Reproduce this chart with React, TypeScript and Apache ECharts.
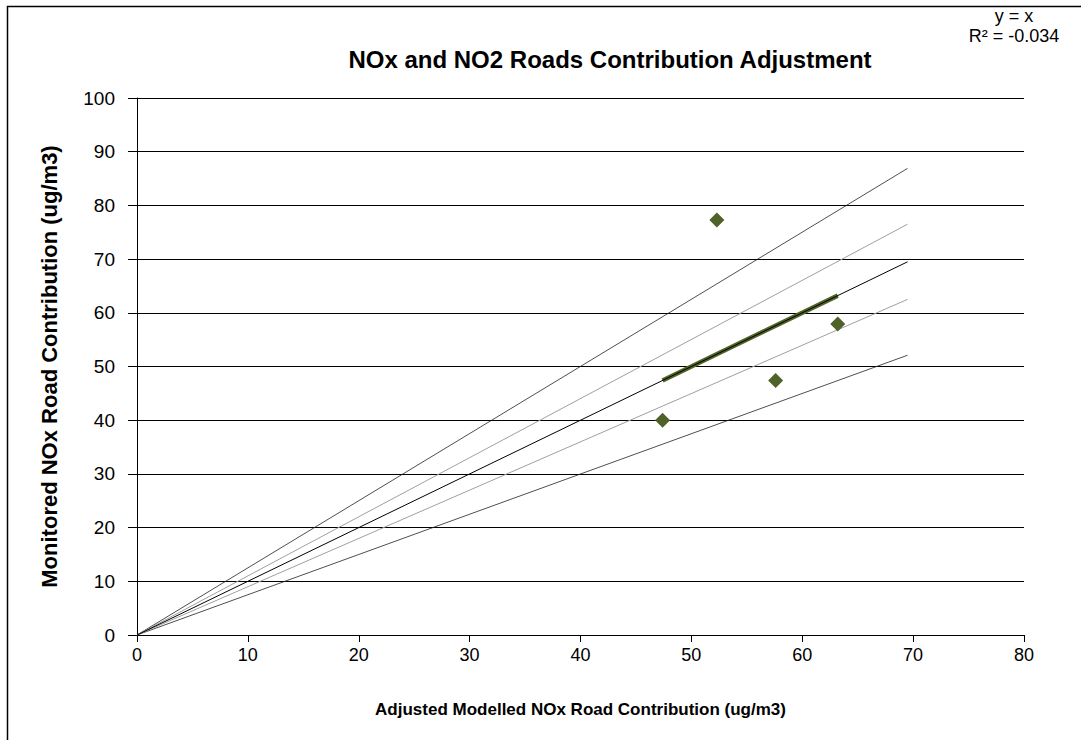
import React, { useEffect, useRef } from "react";
import * as echarts from "echarts";

const monitoredPoints: [number, number][] = [
  [47.4, 40.0],
  [52.3, 77.3],
  [57.6, 47.4],
  [63.2, 57.9],
];
const trendLine: [number, number][] = [
  [47.4, 47.4],
  [63.2, 63.2],
];
const lineOneToOne: [number, number][] = [
  [0, 0],
  [69.5, 69.5],
];
const linePlus25: [number, number][] = [
  [0, 0],
  [69.5, 86.9],
];
const lineMinus25: [number, number][] = [
  [0, 0],
  [69.5, 52.1],
];
const linePlus10: [number, number][] = [
  [0, 0],
  [69.5, 76.5],
];
const lineMinus10: [number, number][] = [
  [0, 0],
  [69.5, 62.5],
];

const FONT = "'Liberation Sans', Arial, sans-serif";

export default function App() {
  const ref = useRef<HTMLDivElement>(null);
  useEffect(() => {
    if (!ref.current) return;
    const chart = echarts.init(ref.current, null, { renderer: "svg" });
    const lineSeries = (data: [number, number][], color: string, width: number, z: number) => ({
      type: "line",
      data,
      symbol: "none",
      lineStyle: { color, width },
      z,
      silent: true,
    });
    chart.setOption({
      animation: false,
      backgroundColor: "#ffffff",
      textStyle: { fontFamily: FONT },
      title: {
        text: "NOx and NO2 Roads Contribution Adjustment",
        left: 605,
        top: 42,
        textAlign: "center",
        textStyle: { fontSize: 24, fontWeight: "bold", color: "#000", fontFamily: FONT },
      },
      graphic: [
        {
          type: "rect",
          shape: { x: 7.5, y: 6.5, width: 1200, height: 900 },
          style: { fill: "none", stroke: "#000", lineWidth: 1.5 },
          silent: true,
        },
        {
          type: "text",
          x: 1014,
          y: 16,
          style: { text: "y = x", fill: "#000", font: `18px ${FONT}`, textAlign: "center", textVerticalAlign: "middle" },
        },
        {
          type: "text",
          x: 1014,
          y: 36,
          style: { text: "R² = -0.034", fill: "#000", font: `18px ${FONT}`, textAlign: "center", textVerticalAlign: "middle" },
        },
      ],
      grid: { left: 137, right: 57, top: 98, bottom: 105, containLabel: false },
      xAxis: {
        type: "value",
        min: 0,
        max: 80,
        interval: 10,
        name: "Adjusted Modelled NOx Road Contribution (ug/m3)",
        nameLocation: "middle",
        nameGap: 66,
        nameTextStyle: { fontSize: 17, fontWeight: "bold", color: "#000", fontFamily: FONT },
        axisLine: { show: true, lineStyle: { color: "#000", width: 1 } },
        axisTick: { show: true, length: 7, lineStyle: { color: "#000" } },
        axisLabel: { color: "#000", fontSize: 18, margin: 11, fontFamily: FONT },
        splitLine: { show: false },
      },
      yAxis: {
        type: "value",
        min: 0,
        max: 100,
        interval: 10,
        name: "Monitored NOx Road Contribution (ug/m3)",
        nameLocation: "middle",
        nameGap: 77,
        nameTextStyle: { fontSize: 22, fontWeight: "bold", color: "#000", fontFamily: FONT },
        axisLine: { show: true, lineStyle: { color: "#000", width: 1 } },
        axisTick: { show: true, length: 9, lineStyle: { color: "#000" } },
        axisLabel: { color: "#000", fontSize: 19, margin: 22, fontFamily: FONT },
        splitLine: { show: true, lineStyle: { color: "#000", width: 1 } },
      },
      series: [
        lineSeries(linePlus25, "#222", 0.8, 2),
        lineSeries(lineMinus25, "#222", 0.8, 2),
        lineSeries(linePlus10, "#a0a0a0", 1, 2),
        lineSeries(lineMinus10, "#a0a0a0", 1, 2),
        lineSeries(trendLine, "#4F6228", 4.5, 3),
        lineSeries(lineOneToOne, "#000", 1, 4),
        {
          type: "scatter",
          data: monitoredPoints,
          symbol: "diamond",
          symbolSize: 15,
          itemStyle: { color: "#4F6228", opacity: 1 },
          z: 5,
        },
      ],
    });
    return () => chart.dispose();
  }, []);
  return (
    <div
      ref={ref}
      style={{ position: "fixed", left: 0, top: 0, width: 1081, height: 740 }}
    />
  );
}
